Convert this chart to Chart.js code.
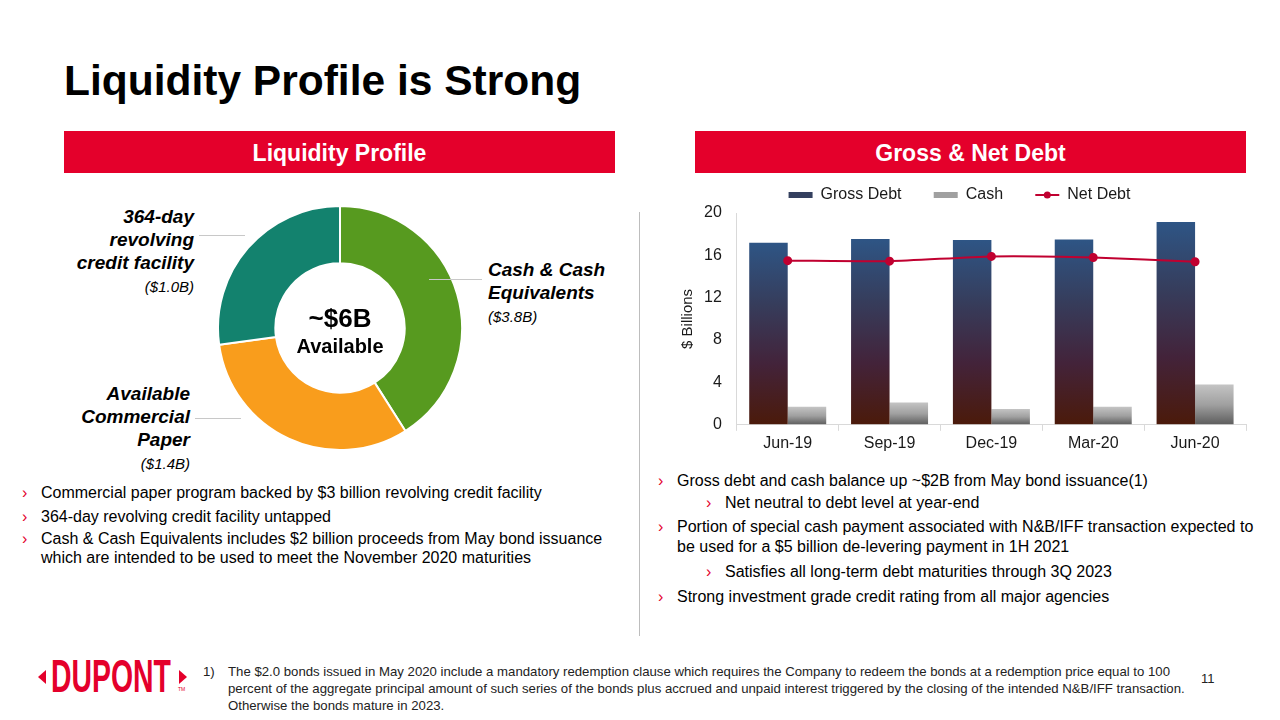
<!DOCTYPE html>
<html>
<head>
<meta charset="utf-8">
<script src="https://cdn.jsdelivr.net/npm/chart.js@4.4.0/dist/chart.umd.min.js"></script>
<style>
  body { margin: 0; width: 1280px; height: 720px; background: #fff; position: relative; overflow: hidden;
         font-family: "Liberation Sans", Arial, sans-serif; color: #000; }
  .abs { position: absolute; }
  h1 { position: absolute; left: 64px; top: 57px; margin: 0; font-size: 42.5px; font-weight: bold; }
  .hdr { position: absolute; top: 131px; height: 42px; background: #e4002b; color: #fff; font-weight: bold;
         font-size: 23px; line-height: 44px; text-align: center; }
  .lbl { position: absolute; font-weight: bold; font-style: italic; font-size: 19px; line-height: 23px; }
  .lbl span { font-weight: normal; font-size: 15px; }
  .lead { position: absolute; height: 1px; background: #c8c8c8; }
  .bul { position: absolute; font-size: 16px; line-height: 24px; }
  .bul b { color: #e4002b; font-weight: normal; position: absolute; left: -19px; }
  .foot { position: absolute; left: 228px; top: 663px; font-size: 13.2px; line-height: 17px; color: #222; }
</style>
</head>
<body>
<h1>Liquidity Profile is Strong</h1>
<div class="hdr" style="left:64px;width:551px;">Liquidity Profile</div>
<div class="hdr" style="left:695px;width:551px;">Gross &amp; Net Debt</div>

<div class="abs" style="left:217px;top:205px;width:246px;height:246px;">
  <canvas id="donut" width="246" height="246"></canvas>
</div>
<div class="abs" style="left:270px;top:303px;width:140px;text-align:center;font-weight:bold;">
  <div style="font-size:26px;line-height:30px;">~$6B</div>
  <div style="font-size:20px;line-height:26px;">Available</div>
</div>

<div class="lbl" style="right:1086px;top:205px;text-align:right;">364-day<br>revolving<br>credit facility<br><span>($1.0B)</span></div>
<div class="lead" style="left:199px;top:235px;width:46px;"></div>
<div class="lbl" style="left:488px;top:258px;">Cash &amp; Cash<br>Equivalents<br><span>($3.8B)</span></div>
<div class="lead" style="left:429px;top:279px;width:53px;"></div>
<div class="lbl" style="right:1090px;top:382px;text-align:right;">Available<br>Commercial<br>Paper<br><span>($1.4B)</span></div>
<div class="lead" style="left:195px;top:418px;width:46px;"></div>

<div class="abs" style="left:639px;top:212px;width:1px;height:424px;background:#bdbdbd;"></div>

<div class="abs" style="left:673px;top:177px;width:580px;height:279px;">
  <canvas id="debt" width="580" height="279"></canvas>
</div>

<div class="bul" style="left:41px;top:481px;"><b>›</b>Commercial paper program backed by $3 billion revolving credit facility</div>
<div class="bul" style="left:41px;top:505px;"><b>›</b>364-day revolving credit facility untapped</div>
<div class="bul" style="left:41px;top:529px;line-height:19px;width:580px;"><b>›</b>Cash &amp; Cash Equivalents includes $2 billion proceeds from May bond issuance which are intended to be used to meet the November 2020 maturities</div>

<div class="bul" style="left:677px;top:469px;"><b>›</b>Gross debt and cash balance up ~$2B from May bond issuance(1)</div>
<div class="bul" style="left:725px;top:491px;"><b>›</b>Net neutral to debt level at year-end</div>
<div class="bul" style="left:677px;top:517px;line-height:20px;width:590px;"><b>›</b>Portion of special cash payment associated with N&amp;B/IFF transaction expected to be used for a $5 billion de-levering payment in 1H 2021</div>
<div class="bul" style="left:725px;top:560px;"><b>›</b>Satisfies all long-term debt maturities through 3Q 2023</div>
<div class="bul" style="left:677px;top:585px;"><b>›</b>Strong investment grade credit rating from all major agencies</div>

<div class="abs" style="left:38px;top:660px;width:150px;height:34px;">
  <div class="abs" style="left:0;top:10px;width:0;height:0;border-top:7px solid transparent;border-bottom:7px solid transparent;border-right:8px solid #e4002b;"></div>
  <div class="abs" style="left:13px;top:-7px;font-weight:bold;font-size:40px;line-height:40px;color:#e4002b;transform:scale(0.71,1.15);transform-origin:top left;">DUPONT</div>
  <div class="abs" style="left:141px;top:10px;width:0;height:0;border-top:7px solid transparent;border-bottom:7px solid transparent;border-left:8px solid #e4002b;"></div>
  <div class="abs" style="left:140px;top:26px;font-size:5px;color:#e4002b;">TM</div>
</div>
<div class="abs" style="left:203px;top:663px;font-size:13.2px;line-height:17px;color:#222;">1)</div>
<div class="foot">The $2.0 bonds issued in May 2020 include a mandatory redemption clause which requires the Company to redeem the bonds at a redemption price equal to 100<br>percent of the aggregate principal amount of such series of the bonds plus accrued and unpaid interest triggered by the closing of the intended N&amp;B/IFF transaction.<br>Otherwise the bonds mature in 2023.</div>
<div class="abs" style="left:1201px;top:671px;font-size:13px;color:#222;">11</div>

<script>
// liquidity donut (shares of the ring as drawn)
const liquidityLabels = ['Cash & Cash Equivalents', 'Available Commercial Paper', '364-day revolving credit facility'];
const liquidityShares = [41, 31.8, 27.2];
const liquidityColors = ['#579a1f', '#f99d1c', '#13826e'];

// gross & net debt, $ billions
const quarters = ['Jun-19', 'Sep-19', 'Dec-19', 'Mar-20', 'Jun-20'];
const grossDebt = [17.2, 17.55, 17.45, 17.5, 19.15];
const cash = [1.7, 2.1, 1.5, 1.7, 3.8];
const netDebt = [15.5, 15.45, 15.9, 15.8, 15.4];
const legendOrder = ['Gross Debt', 'Cash', 'Net Debt'];

Chart.defaults.font.family = '"Liberation Sans", Arial, sans-serif';
Chart.defaults.color = '#1a1a1a';

function barGradient(ctx, stops, fallback) {
    let chart = ctx.chart;
    if (!chart.chartArea || ctx.type !== 'data') return fallback;
    let y = chart.scales.y;
    let top = y.getPixelForValue(ctx.raw);
    let bottom = y.getPixelForValue(0);
    let g = chart.ctx.createLinearGradient(0, top, 0, bottom);
    stops.forEach((c, i) => g.addColorStop(i / (stops.length - 1), c));
    return g;
}

new Chart(document.getElementById('donut').getContext('2d'), {
    type: 'doughnut',
    data: {
        labels: liquidityLabels,
        datasets: [{
            data: liquidityShares,
            backgroundColor: liquidityColors,
            borderColor: '#ffffff',
            borderWidth: 2,
        }]
    },
    options: {
        responsive: false,
        animation: false,
        cutout: '53%',
        plugins: { legend: { display: false }, tooltip: { enabled: false } },
    },
});

// puts the dot on the Net Debt legend line
const legendDot = {
    id: 'legendDot',
    afterDraw(chart) {
        let boxes = chart.legend.legendHitBoxes;
        if (!boxes || !boxes[2]) return;
        let b = boxes[2];
        let c = chart.ctx;
        c.save();
        c.fillStyle = '#c00030';
        c.beginPath();
        c.arc(b.left + 12, b.top + b.height / 2, 3.5, 0, Math.PI * 2);
        c.fill();
        c.restore();
    }
};

new Chart(document.getElementById('debt').getContext('2d'), {
    data: {
        labels: quarters,
        datasets: [{
            type: 'line',
            label: 'Net Debt',
            data: netDebt,
            borderColor: '#c00030',
            backgroundColor: '#c00030',
            borderWidth: 2,
            pointRadius: 3.5,
            tension: 0.2,
            order: 0,
        }, {
            type: 'bar',
            label: 'Gross Debt',
            data: grossDebt,
            backgroundColor: (c) => barGradient(c, ['#2e5585', '#363d5c', '#43233a', '#4b1a0a'], '#2e4a73'),
            barPercentage: 1,
            categoryPercentage: 0.756,
            order: 1,
        }, {
            type: 'bar',
            label: 'Cash',
            data: cash,
            backgroundColor: (c) => barGradient(c, ['#c4c4c4', '#a0a0a0', '#5c5c5c'], '#9a9a9a'),
            barPercentage: 1,
            categoryPercentage: 0.756,
            order: 2,
        }]
    },
    options: {
        responsive: false,
        animation: false,
        layout: { padding: { left: 0, right: 7, top: 0, bottom: 0 } },
        plugins: {
            tooltip: { enabled: false },
            legend: {
                position: 'top',
                labels: {
                    font: { size: 16 },
                    usePointStyle: true,
                    pointStyleWidth: 24,
                    boxHeight: 6,
                    padding: 10,
                    sort: (a, b) => legendOrder.indexOf(a.text.trim()) - legendOrder.indexOf(b.text.trim()),
                    generateLabels(chart) {
                        let items = Chart.defaults.plugins.legend.labels.generateLabels(chart);
                        items.forEach(it => {
                            if (it.text === 'Net Debt') {
                                it.pointStyle = 'line';
                                it.strokeStyle = '#c00030';
                                it.lineWidth = 2;
                            } else {
                                it.pointStyle = 'rect';
                                it.fillStyle = it.text === 'Cash' ? '#a0a0a0' : '#34405f';
                                it.lineWidth = 0;
                                it.strokeStyle = 'rgba(0,0,0,0)';
                                it.text = it.text + '     ';
                            }
                        });
                        return items;
                    },
                },
            },
        },
        scales: {
            x: {
                grid: { drawOnChartArea: false, drawTicks: true, tickLength: 6, color: '#d9d9d9' },
                border: { color: '#d9d9d9' },
                ticks: { font: { size: 16 }, padding: 3 },
            },
            y: {
                min: 0,
                max: 20,
                ticks: { stepSize: 4, font: { size: 16 }, padding: 15 },
                grid: { drawOnChartArea: false, drawTicks: false },
                border: { color: '#d9d9d9' },
                title: { display: true, text: '$ Billions', font: { size: 15, lineHeight: 1 }, padding: { top: 7, bottom: -6 } },
            },
        },
    },
    plugins: [legendDot],
});
</script>
</body>
</html>
